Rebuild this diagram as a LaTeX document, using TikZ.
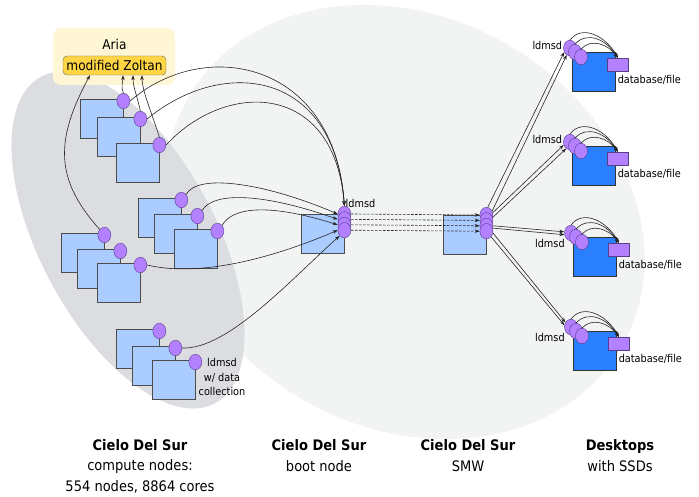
\documentclass[tikz,border=0pt]{standalone}
\usepackage{fontspec}
\setmainfont{DejaVu Sans Condensed}
\usepackage{tikz}
\usetikzlibrary{positioning}
\usetikzlibrary{shapes.geometric}
\usetikzlibrary{arrows.meta}
\definecolor{nodeblue}{HTML}{AACCFF}
\definecolor{deskblue}{HTML}{2A7FFF}
\definecolor{ldmpurple}{HTML}{B380FF}
\definecolor{ldmedge}{HTML}{5A3C8C}
\definecolor{ariayellow}{HTML}{FFF6D5}
\definecolor{zoltanyellow}{HTML}{FFD546}
\definecolor{lightzone}{HTML}{F2F4F4}
\definecolor{darkzone}{HTML}{DBDDE1}
\tikzstyle{cnode}=[draw=black!70, fill=nodeblue, minimum width=43pt, minimum height=39pt, inner sep=0pt, anchor=north west]
\tikzstyle{dnode}=[cnode, fill=deskblue, draw=black!80]
\tikzstyle{ldm}=[ellipse, draw=ldmedge, fill=ldmpurple, minimum width=13pt, minimum height=15.5pt, inner sep=0pt]
\tikzstyle{dbox}=[draw=ldmedge, fill=ldmpurple, minimum width=21pt, minimum height=13pt, inner sep=0pt]
\tikzstyle{lbl}=[font=\fontsize{10.8}{14.5}\selectfont, inner sep=1pt]
\tikzstyle{captext}=[font=\fontsize{14.5}{20.5}\selectfont, align=center]
\tikzstyle{flow}=[-{Stealth[length=5pt, width=3.5pt]}, black!85, line width=0.6pt]

\begin{document}
\begin{tikzpicture}[x=1pt, y=-1pt]
            \useasboundingbox (0,0) rectangle (699,497);
            \fill[lightzone, rotate around={-30:(405,222)}] (405,222) ellipse [x radius=250pt, y radius=205pt];
            \fill[darkzone, rotate around={-62:(128,240)}] (128,240) ellipse [x radius=185pt, y radius=88pt];
            \fill[ariayellow, rounded corners=8pt] (53,28) rectangle (175,85);

            \node[draw=black!60, fill=zoltanyellow, rounded corners=4pt, font=\fontsize{13.5}{15}\selectfont, inner sep=2.5pt, minimum width=103pt, minimum height=19pt] (zoltan) at (114.5,65.5) {modified Zoltan};
            \node[font=\fontsize{13.5}{15}\selectfont, above=3pt of zoltan] (aria) {Aria};

            \node[cnode] (a1) at (80,99) {};
            \node[ldm] (ca1) at ([yshift=-2pt]a1.north east) {};
            \node[cnode] (a2) at (97,117) {};
            \node[ldm] (ca2) at ([yshift=-2pt]a2.north east) {};
            \node[cnode] (a3) at (116,143) {};
            \node[ldm] (ca3) at ([yshift=-2pt]a3.north east) {};

            \node[cnode] (b1) at (138,198) {};
            \node[ldm] (cb1) at ([yshift=-2pt]b1.north east) {};
            \node[cnode] (b2) at (154,214) {};
            \node[ldm] (cb2) at ([yshift=-2pt]b2.north east) {};
            \node[cnode] (b3) at (174,229) {};
            \node[ldm] (cb3) at ([yshift=-2pt]b3.north east) {};

            \node[cnode] (c1) at (61,233) {};
            \node[ldm] (cc1) at ([yshift=-2pt]c1.north east) {};
            \node[cnode] (c2) at (77,249) {};
            \node[ldm] (cc2) at ([yshift=-2pt]c2.north east) {};
            \node[cnode] (c3) at (97,263) {};
            \node[ldm] (cc3) at ([yshift=-2pt]c3.north east) {};

            \node[cnode] (d1) at (116,329) {};
            \node[ldm] (cd1) at ([yshift=-2pt]d1.north east) {};
            \node[cnode] (d2) at (132,346) {};
            \node[ldm] (cd2) at ([yshift=-2pt]d2.north east) {};
            \node[cnode] (d3) at (152,360) {};
            \node[ldm] (cd3) at ([yshift=-2pt]d3.north east) {};
            \node[lbl, align=center] (collect) at (222,377) {ldmsd\\w/ data\\collection};

            \node[cnode] (boot) at (301,214) {};
            \node[ldm, label={[lbl, xshift=-5pt]above right:ldmsd}] (boot1) at (boot.north east) {};
            \node[ldm, below=-10.5pt of boot1] (boot2) {};
            \node[ldm, below=-10.5pt of boot2] (boot3) {};
            \node[ldm, below=-10.5pt of boot3] (boot4) {};

            \node[cnode] (smw) at (443,215) {};
            \node[ldm] (smw1) at (smw.north east) {};
            \node[ldm, below=-10.5pt of smw1] (smw2) {};
            \node[ldm, below=-10.5pt of smw2] (smw3) {};
            \node[ldm, below=-10.5pt of smw3] (smw4) {};

            \node[dnode] (dk1) at (572,52) {};
            \node[ldm, label={[lbl, yshift=3pt]left:ldmsd}] (dk1a) at ([shift={(-2pt,4pt)}]dk1.north west) {};
            \node[ldm] (dk1b) at ([shift={(3pt,0pt)}]dk1.north west) {};
            \node[ldm] (dk1c) at ([shift={(9pt,-5pt)}]dk1.north west) {};
            \node[dbox, label={[lbl, xshift=-8pt, yshift=-3pt]below right:database/file}] (db1) at ([shift={(2.5pt,7pt)}]dk1.east) {};

            \node[dnode] (dk2) at (572,146) {};
            \node[ldm, label={[lbl, yshift=3pt]left:ldmsd}] (dk2a) at ([shift={(-2pt,4pt)}]dk2.north west) {};
            \node[ldm] (dk2b) at ([shift={(3pt,0pt)}]dk2.north west) {};
            \node[ldm] (dk2c) at ([shift={(9pt,-5pt)}]dk2.north west) {};
            \node[dbox, label={[lbl, xshift=-8pt, yshift=-3pt]below right:database/file}] (db2) at ([shift={(2.5pt,7pt)}]dk2.east) {};

            \node[dnode] (dk3) at (573,237) {};
            \node[ldm, label={[lbl]below left:ldmsd}] (dk3a) at ([shift={(-2pt,4pt)}]dk3.north west) {};
            \node[ldm] (dk3b) at ([shift={(3pt,0pt)}]dk3.north west) {};
            \node[ldm] (dk3c) at ([shift={(9pt,-5pt)}]dk3.north west) {};
            \node[dbox, label={[lbl, xshift=-8pt, yshift=-3pt]below right:database/file}] (db3) at ([shift={(2.5pt,7pt)}]dk3.east) {};

            \node[dnode] (dk4) at (573,331) {};
            \node[ldm, label={[lbl]below left:ldmsd}] (dk4a) at ([shift={(-2pt,4pt)}]dk4.north west) {};
            \node[ldm] (dk4b) at ([shift={(3pt,0pt)}]dk4.north west) {};
            \node[ldm] (dk4c) at ([shift={(9pt,-5pt)}]dk4.north west) {};
            \node[dbox, label={[lbl, xshift=-8pt, yshift=-3pt]below right:database/file}] (db4) at ([shift={(2.5pt,7pt)}]dk4.east) {};

            \node[captext] (capcompute) at (140,466) {\textbf{Cielo Del Sur}\\compute nodes:\\554 nodes, 8864 cores};
            \node[captext] (capboot) at (319,455.5) {\textbf{Cielo Del Sur}\\boot node};
            \node[captext] (capsmw) at (468,455.5) {\textbf{Cielo Del Sur}\\SMW};
            \node[captext] (capdesk) at (620,455.5) {\textbf{Desktops}\\with SSDs};

            \draw[flow] (ca1.north) .. controls +(-3,-8) and +(0,8) .. ([xshift=8.5pt]zoltan.south);
            \draw[flow] (ca2.north) .. controls +(-4,-18) and +(0,12) .. ([xshift=18.5pt]zoltan.south);
            \draw[flow] (ca3.north) .. controls +(-8,-25) and +(0,15) .. ([xshift=27.5pt]zoltan.south);
            \draw[flow] (cc1.north west) .. controls +(-45,-50) and +(-35,65) .. ([xshift=-24.5pt]zoltan.south);

            \draw[flow] (ca1.east) .. controls +(75,-65) and +(-10,-145) .. (boot1.north);
            \draw[flow] (ca2.east) .. controls +(75,-62) and +(-10,-138) .. (boot1.north);
            \draw[flow] (ca3.east) .. controls +(60,-65) and +(-10,-125) .. (boot1.north);
            \draw[flow] (cb1.north east) .. controls +(12,-22) and +(-70,-30) .. (boot1.west);
            \draw[flow] (cb2.north east) .. controls +(12,-20) and +(-70,-25) .. (boot2.west);
            \draw[flow] (cb3.north east) .. controls +(10,-18) and +(-70,-22) .. (boot3.west);
            \draw[flow] (cc3.east) .. controls +(50,12) and +(-70,30) .. (boot4.west);
            \draw[flow] (cd2.east) .. controls +(45,2) and +(-50,45) .. (boot4.south west);

            \draw[flow, dash pattern=on 2.5pt off 1.5pt] (boot1.east) -- (smw1.west);
            \draw[flow, dash pattern=on 2.5pt off 1.5pt] (boot2.east) -- (smw2.west);
            \draw[flow, dash pattern=on 2.5pt off 1.5pt] (boot3.east) -- (smw3.west);
            \draw[flow, dash pattern=on 2.5pt off 1.5pt] (boot4.east) -- (smw4.west);

            \draw[flow] (smw1.80) -- (dk1a.215);
            \draw[flow] (smw1.35) -- (dk1a.245);
            \draw[flow] (smw1.20) -- (dk2a.205);
            \draw[flow] (smw2.25) -- (dk2a.240);
            \draw[flow] (smw3.0) -- (dk3a.170);
            \draw[flow] (smw3.-20) -- (dk3a.195);
            \draw[flow] (smw4.-15) -- (dk4a.140);
            \draw[flow] (smw4.-50) -- (dk4a.165);

            \draw[flow] (dk1a.north) .. controls +(12,-16) and +(-12,-22) .. (db1.north);
            \draw[flow] (dk1b.north) .. controls +(12,-13) and +(-12,-19) .. (db1.north);
            \draw[flow] (dk1c.north) .. controls +(10,-11) and +(-10,-14) .. (db1.north);
            \draw[flow] (dk2a.north) .. controls +(12,-16) and +(-12,-22) .. (db2.north);
            \draw[flow] (dk2b.north) .. controls +(12,-13) and +(-12,-19) .. (db2.north);
            \draw[flow] (dk2c.north) .. controls +(10,-11) and +(-10,-14) .. (db2.north);
            \draw[flow] (dk3a.north) .. controls +(12,-16) and +(-12,-22) .. (db3.north);
            \draw[flow] (dk3b.north) .. controls +(12,-13) and +(-12,-19) .. (db3.north);
            \draw[flow] (dk3c.north) .. controls +(10,-11) and +(-10,-14) .. (db3.north);
            \draw[flow] (dk4a.north) .. controls +(12,-16) and +(-12,-22) .. (db4.north);
            \draw[flow] (dk4b.north) .. controls +(12,-13) and +(-12,-19) .. (db4.north);
            \draw[flow] (dk4c.north) .. controls +(10,-11) and +(-10,-14) .. (db4.north);
        \end{tikzpicture}
\end{document}
